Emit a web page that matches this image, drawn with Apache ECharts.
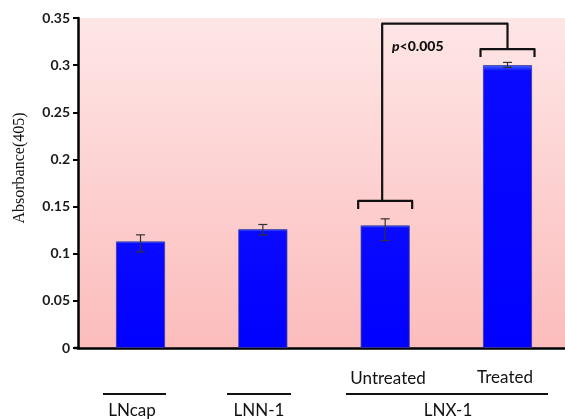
<!DOCTYPE html>
<html>
<head>
<meta charset="utf-8">
<script src="https://cdn.jsdelivr.net/npm/echarts@6/dist/echarts.min.js"></script>
<style>html,body{margin:0;padding:0;background:#fff}#c{width:565px;height:419px}</style>
</head>
<body>
<div id="c"></div>
<script>
// ---- data ----
var categories = ['LNcap', 'LNN-1', 'Untreated', 'Treated'];
var values = [0.113, 0.126, 0.130, 0.300];
var errLow = [0.102, 0.120, 0.114, 0.2976];
var errHigh = [0.120, 0.131, 0.137, 0.3029];
var yTicks = [0, 0.05, 0.1, 0.15, 0.2, 0.25, 0.3, 0.35];
var bracketCats = [3, 4];          // 1-based category positions compared
var bracketLevels = [0.156, 0.317];
var bridgeLevel = 0.344;
var pLabel = 'p<0.005';

var chart = echarts.init(document.getElementById('c'), null, {renderer: 'canvas'});

var barData = values.map(function (v, i) { return [i + 1, v]; });
var errData = values.map(function (v, i) { return [i + 1, errLow[i], errHigh[i]]; });
var bracketData = [[bracketCats[0], bracketLevels[0], bracketCats[1], bracketLevels[1], bridgeLevel]];

chart.setOption({
  animation: false,
  grid: {
    left: 78, right: 0, top: 18, bottom: 71,
    show: true, borderWidth: 0,
    backgroundColor: new echarts.graphic.LinearGradient(0, 0, 0, 1, [
      {offset: 0, color: '#fee6e6'},
      {offset: 1, color: '#fcbcbc'}
    ])
  },
  xAxis: {
    type: 'value', min: 0.489, max: 4.47,
    axisLine: {show: true, onZero: false, lineStyle: {color: '#000', width: 2.5}},
    axisTick: {show: false}, axisLabel: {show: false}, splitLine: {show: false}
  },
  yAxis: {
    type: 'value', min: yTicks[0], max: yTicks[yTicks.length - 1], interval: 0.05,
    name: 'Absorbance(405)', nameLocation: 'middle', nameGap: 50,
    nameTextStyle: {fontFamily: 'Liberation Serif', fontSize: 16, color: '#111', padding: [0, 0, 0, 30]},
    axisLine: {show: true, lineStyle: {color: '#000', width: 2.5}},
    axisTick: {show: true, length: 5, lineStyle: {color: '#000', width: 2}},
    axisLabel: {
      margin: 8, fontFamily: 'Lato', fontWeight: 'bold', fontSize: 14, color: '#1a1a1a',
      formatter: function (v) { return String(+v.toFixed(2)); }
    },
    splitLine: {show: false}
  },
  series: [
    {
      type: 'bar', data: barData, barWidth: 49,
      itemStyle: {
        color: new echarts.graphic.LinearGradient(0, 0, 0, 1, [
          {offset: 0, color: '#4a6cff'},
          {offset: 0.02, color: '#0a0aff'},
          {offset: 1, color: '#0000ff'}
        ]),
        borderColor: '#3a3a9a', borderWidth: 0.8
      },
      z: 2
    },
    {
      type: 'custom', data: errData, z: 3,
      renderItem: function (params, api) {
        var x = api.value(0);
        var lo = api.coord([x, api.value(1)]);
        var hi = api.coord([x, api.value(2)]);
        var w = 4.5;
        var s = {stroke: '#333', lineWidth: 1.2};
        return {type: 'group', children: [
          {type: 'line', shape: {x1: lo[0], y1: lo[1], x2: hi[0], y2: hi[1]}, style: s},
          {type: 'line', shape: {x1: lo[0] - w, y1: lo[1], x2: lo[0] + w, y2: lo[1]}, style: s},
          {type: 'line', shape: {x1: hi[0] - w, y1: hi[1], x2: hi[0] + w, y2: hi[1]}, style: s}
        ]};
      }
    },
    {
      type: 'custom', data: bracketData, z: 4,
      renderItem: function (params, api) {
        var a = api.coord([api.value(0), api.value(1)]);
        var b = api.coord([api.value(2), api.value(3)]);
        var top = api.coord([api.value(0), api.value(4)])[1];
        var hw = 27, dn = 8;
        var s = {stroke: '#111', lineWidth: 2.2, fill: null, lineJoin: 'round'};
        function br(p) {
          return {type: 'polyline', shape: {points: [[p[0] - hw, p[1] + dn], [p[0] - hw, p[1]], [p[0] + hw, p[1]], [p[0] + hw, p[1] + dn]]}, style: s};
        }
        return {type: 'group', children: [
          br(a), br(b),
          {type: 'polyline', shape: {points: [[a[0] - 3, a[1]], [a[0] - 3, top], [b[0], top], [b[0], b[1]]]}, style: s}
        ]};
      }
    }
  ],
  graphic: [
    {type: 'line', shape: {x1: 74, y1: 348, x2: 80, y2: 348}, style: {stroke: '#000', lineWidth: 2.5}},
    {type: 'text', left: 392, top: 39, style: {
      text: '{i|p}{b|<0.005}',
      rich: {
        i: {fontFamily: 'Lato', fontStyle: 'italic', fontWeight: 900, fontSize: 14, fill: '#111'},
        b: {fontFamily: 'Lato', fontWeight: 900, fontSize: 14, fill: '#111'}
      }
    }},
    {type: 'line', shape: {x1: 103, y1: 394, x2: 166, y2: 394}, style: {stroke: '#111', lineWidth: 2}},
    {type: 'line', shape: {x1: 227, y1: 394, x2: 291, y2: 394}, style: {stroke: '#111', lineWidth: 2}},
    {type: 'line', shape: {x1: 346, y1: 394, x2: 548, y2: 394}, style: {stroke: '#111', lineWidth: 2}},
    {type: 'text', x: 132, y: 411, style: {text: categories[0], fontFamily: 'Lato', fontSize: 17, fill: '#111', align: 'center', verticalAlign: 'middle'}},
    {type: 'text', x: 259, y: 411, style: {text: categories[1], fontFamily: 'Lato', fontSize: 17, fill: '#111', align: 'center', verticalAlign: 'middle'}},
    {type: 'text', x: 448, y: 411, style: {text: 'LNX-1', fontFamily: 'Lato', fontSize: 17, fill: '#111', align: 'center', verticalAlign: 'middle'}},
    {type: 'text', x: 388, y: 379, style: {text: categories[2], fontFamily: 'Lato', fontSize: 17, fill: '#111', align: 'center', verticalAlign: 'middle'}},
    {type: 'text', x: 505, y: 378, style: {text: categories[3], fontFamily: 'Lato', fontSize: 17, fill: '#111', align: 'center', verticalAlign: 'middle'}}
  ]
});
</script>
</body>
</html>
